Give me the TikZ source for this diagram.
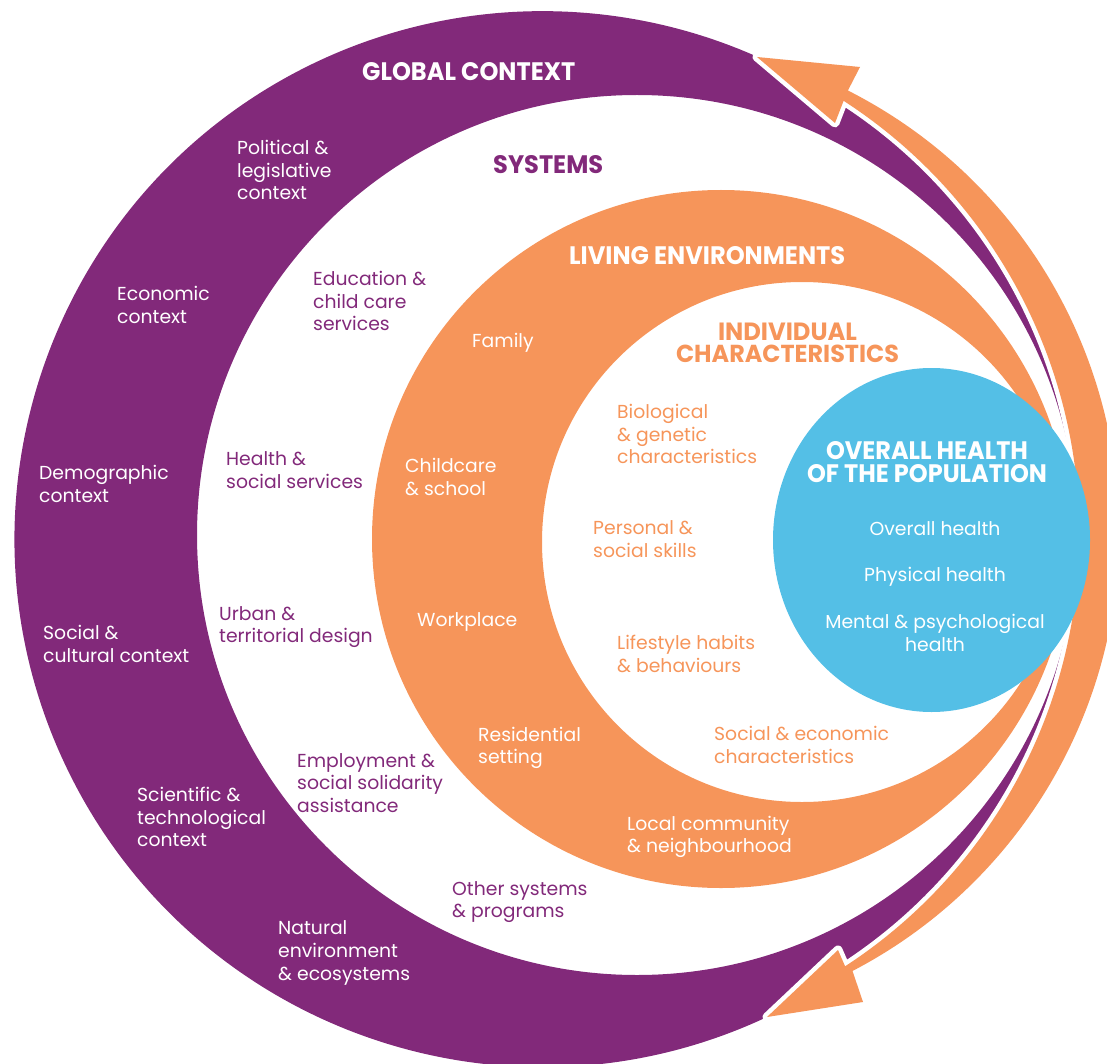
\documentclass[tikz,border=0pt]{standalone}
\usepackage{fontspec}
\usepackage{graphicx}
\setmainfont{Poppins}
\definecolor{hpurple}{HTML}{82297A}
\definecolor{horange}{HTML}{F6955A}
\definecolor{hblue}{HTML}{54BFE6}
% heading set to an exact width and cap height
\newcommand\headtext[3]{\resizebox{#1pt}{#2pt}{\bfseries #3}}

\begin{document}
\begin{tikzpicture}[x=1pt,y=-1pt,
  lbl/.style={anchor=west, align=left, inner sep=0pt, yshift=-2pt,
              font=\fontsize{18.8}{22.7}\selectfont},
  onpurple/.style={lbl, text=white},
  onwhite/.style={lbl, text=hpurple},
  onorange/.style={lbl, text=white},
  indiv/.style={lbl, text=horange},
  onblue/.style={lbl, anchor=center, align=center, text=white},
  head/.style={anchor=south west, inner sep=0pt},
  headpair/.style={anchor=south, align=center, inner sep=0pt},
]
\useasboundingbox (0,0) rectangle (1107,1064);

% outer purple band: global context, open on the right under the arrow
\fill[hpurple, even odd rule]
  (767,1017) arc[start angle=64.84, end angle=293.9, radius=528]
  -- (817,82) -- (847.9,90.5)
  arc[start angle=-63.1, end angle=62.5, radius=495]
  -- (822.7,989.7) -- cycle
  (637,535) circle[radius=440];

% double-headed orange arrow along the right side
\fill[horange, preaction={draw=white, line width=9pt, line join=round}]
  (847.9,90.5) arc[start angle=-63.1, end angle=62.5, radius=495]
  -- (863,1002) -- (767,1017) -- (838,950) -- (845.1,966.3)
  arc[start angle=56.9, end angle=-57.1, radius=516]
  -- (835,123) -- (757,57) -- (860,67) -- cycle;

% living environments ring
\fill[horange, even odd rule]
  (721,539) circle[radius=349]
  (802,542) circle[radius=260];

% overall health of the population
\fill[hblue] (931.5,540) ellipse[x radius=158.5, y radius=172];

% headings
\node[head] (hglobal) at (362,81) {\headtext{213}{18}{\color{white}GLOBAL CONTEXT}};
\node[head] (hsys) at (493,174) {\headtext{110}{18}{\color{hpurple}SYSTEMS}};
\node[head] (hliving) at (569,265) {\headtext{276}{18}{\color{white}LIVING ENVIRONMENTS}};
\node[headpair, font=\fontsize{18}{22}\selectfont] (hind) at (787.5,363)
  {\headtext{139}{17.5}{\color{horange}INDIVIDUAL}\\
   \headtext{223}{17.5}{\color{horange}CHARACTERISTICS}};
\node[headpair, font=\fontsize{18}{23}\selectfont] (hpop) at (927,483)
  {\headtext{202}{18}{\color{white}OVERALL HEALTH}\\
   \headtext{240}{18}{\color{white}OF THE POPULATION}};

% global context
\node[onpurple] (political) at (237,168) {Political \&\\legislative\\context};
\node[onpurple] (economic) at (117,303) {Economic\\context};
\node[onpurple] (demographic) at (39,482) {Demographic\\context};
\node[onpurple] (social) at (43,642) {Social \&\\cultural context};
\node[onpurple] (science) at (137,815) {Scientific \&\\technological\\context};
\node[onpurple] (natural) at (278,951) {Natural\\environment\\\& ecosystems};

% systems
\node[onwhite] (education) at (313,299) {Education \&\\child care\\services};
\node[onwhite] (health) at (226,468) {Health \&\\social services};
\node[onwhite] (urban) at (219,625) {Urban \&\\territorial design};
\node[onwhite] (employment) at (297,781) {Employment \&\\social solidarity\\assistance};
\node[onwhite] (other) at (452,900) {Other systems\\\& programs};

% living environments
\node[onorange] (family) at (472,341) {Family};
\node[onorange] (childcare) at (405,475) {Childcare\\\& school};
\node[onorange] (workplace) at (417,620) {Workplace};
\node[onorange] (residential) at (478,746) {Residential\\setting};
\node[onorange] (local) at (627,835) {Local community\\\& neighbourhood};

% individual characteristics
\node[indiv] (biological) at (617,432) {Biological\\\& genetic\\characteristics};
\node[indiv] (personal) at (593,537) {Personal \&\\social skills};
\node[indiv] (lifestyle) at (617,652) {Lifestyle habits\\\& behaviours};
\node[indiv] (socioeco) at (714,743) {Social \& economic\\characteristics};

% health outcomes
\node[onblue] (overall) at (935,527) {Overall health};
\node[onblue] (physical) at (935,575) {Physical health};
\node[onblue] (mental) at (935,631) {Mental \& psychological\\health};
\end{tikzpicture}
\end{document}
